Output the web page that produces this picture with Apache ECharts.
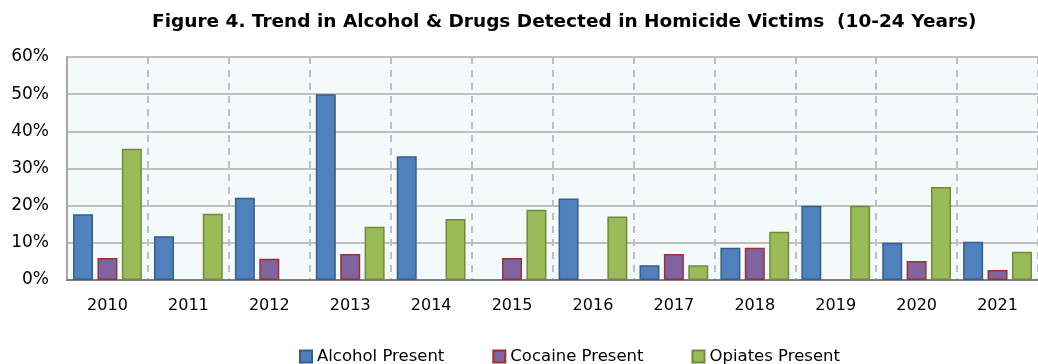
<!DOCTYPE html>
<html>
<head>
<meta charset="utf-8">
<script src="https://cdn.jsdelivr.net/npm/echarts@6/dist/echarts.min.js"></script>
<style>
  html, body { margin: 0; padding: 0; background: #ffffff; }
  #chart { width: 1038px; height: 364px; }
</style>
</head>
<body>
<div id="chart"></div>
<script>
// Share of homicide victims aged 10-24 with each substance detected, in percent
// (null = none detected that year)
const years = ['2010', '2011', '2012', '2013', '2014', '2015', '2016', '2017', '2018', '2019', '2020', '2021'];
const alcohol = [17.7, 11.8, 22.1, 50.0, 33.3, null, 21.9, 4.0, 8.7, 20.0, 10.0, 10.3];
const cocaine = [5.9, null, 5.7, 7.0, null, 5.9, null, 7.0, 8.7, null, 5.1, 2.7];
const opiates = [35.3, 17.8, null, 14.3, 16.4, 18.9, 17.1, 4.0, 13.0, 20.0, 25.0, 7.6];
const yTicks = { min: 0, max: 60, step: 10 };

const FONT = 'DejaVu Sans';

function barSeries(name, data, fill, edge) {
  return {
    name: name,
    type: 'bar',
    data: data,
    barWidth: 20,
    barGap: '22%',
    itemStyle: { color: fill, borderColor: edge, borderWidth: 1.5 }
  };
}

const chart = echarts.init(document.getElementById('chart'), null, { renderer: 'canvas' });
chart.setOption({
  animation: false,
  title: {
    text: 'Figure 4. Trend in Alcohol & Drugs Detected in Homicide Victims  (10-24 Years)',
    left: 147,
    top: 8,
    textStyle: { fontFamily: FONT, fontSize: 18.5, fontWeight: 'bold', color: '#000' }
  },
  grid: {
    left: 67, right: 0, top: 57, bottom: 84,
    show: true, backgroundColor: '#F4FAFA', borderWidth: 0
  },
  legend: {
    top: 343,
    left: 294,
    icon: 'rect',
    itemWidth: 12,
    itemHeight: 12,
    itemGap: 48,
    textStyle: { fontFamily: FONT, fontSize: 16.5, color: '#000' },
    data: ['Alcohol Present', 'Cocaine Present', 'Opiates Present']
  },
  xAxis: {
    type: 'category',
    data: years,
    axisLine: { lineStyle: { color: '#7F7F7F', width: 2 } },
    axisTick: { show: false },
    axisLabel: { fontFamily: FONT, fontSize: 16, color: '#000', margin: 18 },
    splitLine: { show: true, lineStyle: { color: '#BFBFBF', type: [7, 6], width: 2 } }
  },
  yAxis: {
    type: 'value',
    min: yTicks.min,
    max: yTicks.max,
    interval: yTicks.step,
    axisLine: { show: true, lineStyle: { color: '#A6A6A6', width: 2 } },
    axisTick: { show: false },
    axisLabel: { fontFamily: FONT, fontSize: 17, color: '#000', margin: 18, formatter: '{value}%' },
    splitLine: { lineStyle: { color: '#BFBFBF', width: 2 } }
  },
  series: [
    barSeries('Alcohol Present', alcohol, '#4F81BD', '#385D8A'),
    barSeries('Cocaine Present', cocaine, '#8064A2', '#A0302F'),
    barSeries('Opiates Present', opiates, '#9BBB59', '#71893F')
  ]
});
</script>
</body>
</html>
